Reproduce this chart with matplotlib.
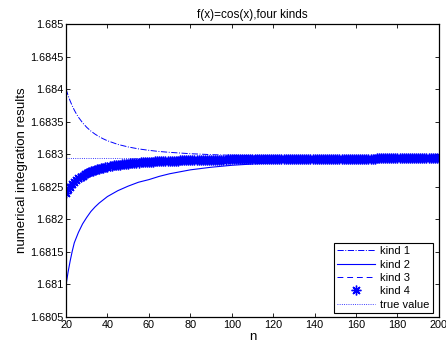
import numpy as np
import matplotlib
matplotlib.use("Agg")
import matplotlib.pyplot as plt

plt.rcParams["font.family"] = ["Liberation Sans", "DejaVu Sans"]
plt.rcParams["font.size"] = 7.5

TRUE_VALUE = 1.682942

# sparse n grid for the smooth line series
n_line = [20, 21, 22, 23, 24, 25, 26, 28, 30, 32, 34, 36, 38, 40, 45, 50,
          55, 60, 65, 70, 80, 90, 100, 110, 120, 130, 140, 150, 160, 170,
          180, 190, 200]

kind1 = [1.684002, 1.683903, 1.683818, 1.683744, 1.683678, 1.683620,
         1.683569, 1.683483, 1.683413, 1.683356, 1.683309, 1.683269,
         1.683236, 1.683207, 1.683151, 1.683112, 1.683082, 1.683060,
         1.683042, 1.683029, 1.683008, 1.682994, 1.682984, 1.682977,
         1.682971, 1.682967, 1.682964, 1.682961, 1.682959, 1.682957,
         1.682955, 1.682954, 1.682953]

kind2 = [1.68099, 1.68119, 1.68136, 1.68151, 1.68164, 1.68172, 1.68180,
         1.68193, 1.68203, 1.68212, 1.68219, 1.68225, 1.68230, 1.68235,
         1.68244, 1.68251, 1.68257, 1.68261, 1.68266, 1.68270, 1.68276,
         1.68280, 1.68283, 1.68285, 1.68287, 1.68288, 1.68289, 1.68290,
         1.68291, 1.68291, 1.68292, 1.68292, 1.68293]

kind3 = [1.682412, 1.682461, 1.682504, 1.682541, 1.682574, 1.682603,
         1.682628, 1.682672, 1.682706, 1.682735, 1.682759, 1.682778,
         1.682795, 1.682809, 1.682837, 1.682857, 1.682872, 1.682883,
         1.682892, 1.682899, 1.682909, 1.682916, 1.682921, 1.682924,
         1.682927, 1.682929, 1.682931, 1.682933, 1.682933, 1.682935,
         1.682935, 1.682936, 1.682936]

# every n from 20 to 200 for the marker series
n_all = list(range(20, 201))
kind4 = [
    1.682412, 1.682461, 1.682504, 1.682541, 1.682574, 1.682603, 1.682628,
    1.682651, 1.682672, 1.682690,  # 20-29
    1.682706, 1.682721, 1.682735, 1.682747, 1.682759, 1.682769, 1.682778,
    1.682787, 1.682795, 1.682803,  # 30-39
    1.682809, 1.682816, 1.682822, 1.682827, 1.682832, 1.682837, 1.682842,
    1.682846, 1.682850, 1.682854,  # 40-49
    1.682857, 1.682860, 1.682864, 1.682867, 1.682869, 1.682872, 1.682874,
    1.682877, 1.682879, 1.682881,  # 50-59
    1.682883, 1.682885, 1.682887, 1.682889, 1.682890, 1.682892, 1.682893,
    1.682895, 1.682896, 1.682897,  # 60-69
    1.682899, 1.682900, 1.682901, 1.682902, 1.682903, 1.682904, 1.682905,
    1.682906, 1.682907, 1.682908,  # 70-79
    1.682909, 1.682910, 1.682910, 1.682911, 1.682912, 1.682913, 1.682913,
    1.682914, 1.682915, 1.682915,  # 80-89
    1.682916, 1.682916, 1.682917, 1.682918, 1.682918, 1.682919, 1.682919,
    1.682919, 1.682920, 1.682920,  # 90-99
    1.682921, 1.682921, 1.682922, 1.682922, 1.682922, 1.682923, 1.682923,
    1.682923, 1.682924, 1.682924,  # 100-109
    1.682924, 1.682925, 1.682925, 1.682925, 1.682926, 1.682926, 1.682926,
    1.682926, 1.682927, 1.682927,  # 110-119
    1.682927, 1.682928, 1.682928, 1.682928, 1.682928, 1.682928, 1.682929,
    1.682929, 1.682929, 1.682929,  # 120-129
    1.682929, 1.682930, 1.682930, 1.682930, 1.682930, 1.682930, 1.682931,
    1.682931, 1.682931, 1.682931,  # 130-139
    1.682931, 1.682931, 1.682932, 1.682932, 1.682932, 1.682932, 1.682932,
    1.682932, 1.682932, 1.682932,  # 140-149
    1.682933, 1.682933, 1.682933, 1.682933, 1.682933, 1.682933, 1.682933,
    1.682933, 1.682933, 1.682933,  # 150-159
    1.682933, 1.682934, 1.682934, 1.682934, 1.682934, 1.682934, 1.682934,
    1.682934, 1.682934, 1.682934,  # 160-169
    1.682935, 1.682935, 1.682935, 1.682935, 1.682935, 1.682935, 1.682935,
    1.682935, 1.682935, 1.682935,  # 170-179
    1.682935, 1.682936, 1.682936, 1.682936, 1.682936, 1.682936, 1.682936,
    1.682936, 1.682936, 1.682936,  # 180-189
    1.682936, 1.682936, 1.682936, 1.682936, 1.682936, 1.682936, 1.682937,
    1.682937, 1.682937, 1.682937,  # 190-199
    1.682937,  # 200
]

y_ticks = [1.6805, 1.681, 1.6815, 1.682, 1.6825, 1.683, 1.6835, 1.684,
           1.6845, 1.685]
y_labels = ["1.6805", "1.681", "1.6815", "1.682", "1.6825", "1.683",
            "1.6835", "1.684", "1.6845", "1.685"]
x_ticks = [20, 40, 60, 80, 100, 120, 140, 160, 180, 200]

blue = (0, 0, 1)

fig = plt.figure(figsize=(4.46, 3.52), dpi=100)
ax = fig.add_axes([0.148, 0.0994, 0.836, 0.8324])

ax.plot(n_line, kind1, color=blue, linestyle="-.", linewidth=0.7,
        label="kind 1")
ax.plot(n_line, kind2, color=blue, linestyle="-", linewidth=0.8,
        label="kind 2")
ax.plot(n_line, kind3, color=blue, linestyle="--", linewidth=0.7,
        label="kind 3", dashes=(6, 4))
ax.plot(n_all, kind4, color=blue, linestyle="none", marker=(8, 2, 0),
        markersize=7, markeredgewidth=1.0, label="kind 4")
ax.plot([n_all[0], n_all[-1]], [TRUE_VALUE, TRUE_VALUE], color=blue,
        linestyle=":", linewidth=0.6, label="true value")

ax.set_xlim(20, 200)
ax.set_ylim(1.6805, 1.685)
ax.set_xticks(x_ticks)
ax.set_yticks(y_ticks)
ax.set_yticklabels(y_labels)
ax.tick_params(direction="in", top=True, right=True, length=3, width=0.6,
               pad=2, labelsize=7.8)
for side in ax.spines.values():
    side.set_linewidth(0.9)

ax.set_title("f(x)=cos(x),four kinds", fontsize=8.5, pad=4)
ax.set_xlabel("n", fontsize=9.5, labelpad=1)
ax.set_ylabel("numerical integration results", fontsize=9.5, labelpad=1)

leg = ax.legend(loc="lower right", bbox_to_anchor=(0.984, 0.014),
                borderaxespad=0, fancybox=False, framealpha=1,
                edgecolor="black", fontsize=8, handlelength=3.4,
                labelspacing=0.3, handletextpad=0.5, borderpad=0.3)
leg.get_frame().set_linewidth(0.8)

fig.savefig("out.png", dpi=100)
